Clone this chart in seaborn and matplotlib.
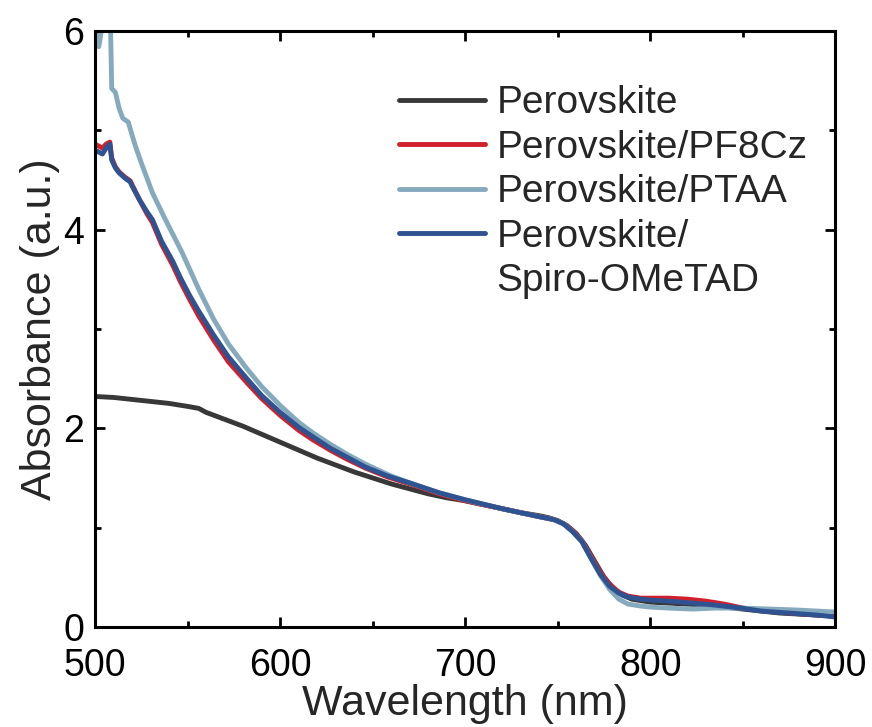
import numpy as np
import pandas as pd
import seaborn as sns
import matplotlib.pyplot as plt
from matplotlib.lines import Line2D

# Absorbance spectra
wl_pvk = [500, 510, 520, 530, 540, 550, 556, 560, 570, 580, 590, 600, 610, 620, 630,
          640, 650, 660, 670, 680, 690, 700, 710, 720, 730, 740, 745, 750, 755, 760,
          765, 770, 775, 780, 785, 790, 800, 810, 820, 830, 840, 850, 860, 870, 880,
          890, 900]
abs_pvk = [2.32, 2.31, 2.29, 2.27, 2.25, 2.22, 2.20, 2.16, 2.09, 2.02, 1.94, 1.86, 1.78, 1.70, 1.63,
           1.56, 1.50, 1.44, 1.39, 1.34, 1.30, 1.27, 1.23, 1.19, 1.15, 1.12, 1.10, 1.07, 1.02, 0.94,
           0.82, 0.66, 0.50, 0.39, 0.32, 0.28, 0.25, 0.24, 0.23, 0.22, 0.20, 0.18, 0.16, 0.14, 0.13,
           0.12, 0.11]

wl_pf8 = [500, 502, 504, 506, 508, 509, 511, 513, 516, 519, 520, 524, 528, 531, 536,
          542, 546, 551, 556, 564, 572, 582, 590, 600, 610, 618, 627, 636, 646, 658,
          670, 686, 700, 720, 740, 748, 753, 758, 763, 768, 773, 778, 783, 788, 795,
          800, 810, 820, 830, 840, 850, 860, 875, 890, 900]
abs_pf8 = [4.86, 4.84, 4.82, 4.86, 4.88, 4.72, 4.63, 4.58, 4.53, 4.49, 4.45, 4.30, 4.16, 4.07, 3.85,
           3.64, 3.48, 3.30, 3.13, 2.89, 2.67, 2.46, 2.30, 2.13, 1.98, 1.88, 1.78, 1.69, 1.60, 1.51,
           1.44, 1.34, 1.27, 1.19, 1.11, 1.08, 1.04, 0.97, 0.87, 0.71, 0.55, 0.43, 0.35, 0.31, 0.29,
           0.29, 0.29, 0.28, 0.26, 0.23, 0.19, 0.17, 0.14, 0.12, 0.11]

wl_ptaa = [500, 501, 502, 503, 505, 507, 508, 509, 511, 513, 515, 518, 520, 522, 525,
           531, 538, 547, 556, 564, 572, 582, 590, 600, 610, 618, 627, 636, 646, 660,
           670, 686, 700, 720, 740, 748, 753, 758, 763, 768, 773, 778, 783, 788, 795,
           800, 810, 823, 835, 850, 865, 880, 900]
abs_ptaa = [6.05, 5.92, 5.84, 5.95, 6.30, 6.60, 6.40, 5.42, 5.38, 5.22, 5.12, 5.08, 4.95, 4.83, 4.67,
            4.37, 4.10, 3.77, 3.40, 3.10, 2.85, 2.60, 2.42, 2.23, 2.06, 1.95, 1.84, 1.74, 1.64, 1.52,
            1.45, 1.35, 1.28, 1.19, 1.11, 1.08, 1.04, 0.96, 0.86, 0.69, 0.52, 0.38, 0.28, 0.23, 0.21,
            0.20, 0.19, 0.18, 0.19, 0.19, 0.18, 0.17, 0.15]

wl_spiro = [500, 502, 504, 506, 508, 509, 511, 513, 516, 519, 520, 524, 528, 531, 536,
            542, 546, 551, 556, 564, 572, 582, 590, 600, 610, 618, 627, 636, 646, 658,
            670, 686, 700, 720, 740, 748, 753, 758, 763, 768, 773, 778, 783, 788, 795,
            800, 810, 823, 835, 849, 860, 875, 890, 900]
abs_spiro = [4.80, 4.78, 4.76, 4.82, 4.86, 4.70, 4.62, 4.57, 4.52, 4.48, 4.44, 4.30, 4.18, 4.10, 3.88,
             3.68, 3.52, 3.34, 3.18, 2.94, 2.72, 2.50, 2.33, 2.16, 2.01, 1.91, 1.80, 1.71, 1.61, 1.52,
             1.45, 1.35, 1.28, 1.19, 1.11, 1.08, 1.04, 0.96, 0.86, 0.69, 0.53, 0.41, 0.34, 0.30, 0.28,
             0.27, 0.26, 0.24, 0.22, 0.19, 0.16, 0.14, 0.12, 0.10]

labels = ['Perovskite', 'Perovskite/PF8Cz', 'Perovskite/PTAA', 'Perovskite/\nSpiro-OMeTAD']
colors = ['#383838', '#d0202c', '#86aabd', '#2f5391']

# Setting the style
sns.set_style('ticks')
plt.rcParams['font.family'] = ['Liberation Sans', 'DejaVu Sans']
plt.rcParams['axes.linewidth'] = 2.2

fig = plt.figure(figsize=(8.72, 7.27), dpi=100)
ax = fig.add_axes([0.109, 0.1376, 0.849, 0.820])

series = [(wl_pvk, abs_pvk), (wl_pf8, abs_pf8), (wl_ptaa, abs_ptaa), (wl_spiro, abs_spiro)]
for (wl, ab), lab, col in zip(series, labels, colors):
    sns.lineplot(x=wl, y=ab, color=col, linewidth=3.5, sort=False, ax=ax, legend=False)

ax.set_xlim(500, 900)
ax.set_ylim(0, 6)
ax.set_xticks([500, 600, 700, 800, 900])
ax.set_xticks([550, 650, 750, 850], minor=True)
ax.set_yticks([0, 2, 4, 6])
ax.set_yticks([1, 3, 5], minor=True)
ax.tick_params(which='both', direction='in', top=True, right=True, width=2.0,
               labelsize=27, colors='black')
ax.tick_params(which='major', length=7)
ax.tick_params(which='minor', length=4)
ax.tick_params(axis='x', which='major', pad=15)
ax.tick_params(axis='y', which='major', pad=8)
for sp in ax.spines.values():
    sp.set_color('black')

ax.set_xlabel('Wavelength (nm)', fontsize=31, labelpad=0)
ax.set_ylabel('Absorbance (a.u.)', fontsize=31, labelpad=2)

# Legend: handle aligned with first line of the last (two-line) label
handles = [Line2D([], [], color=c, lw=3.5, solid_capstyle='round') for c in colors]
handles.append(Line2D([], [], color='none'))
leg_labels = ['Perovskite', 'Perovskite/PF8Cz', 'Perovskite/PTAA', 'Perovskite/', 'Spiro-OMeTAD']
ax.legend(handles, leg_labels, loc='upper left', bbox_to_anchor=(0.39, 0.935),
          frameon=False, fontsize=28, handlelength=2.2, handletextpad=0.3,
          labelspacing=0.22, borderaxespad=0)

fig.savefig('out.png', dpi=100)
